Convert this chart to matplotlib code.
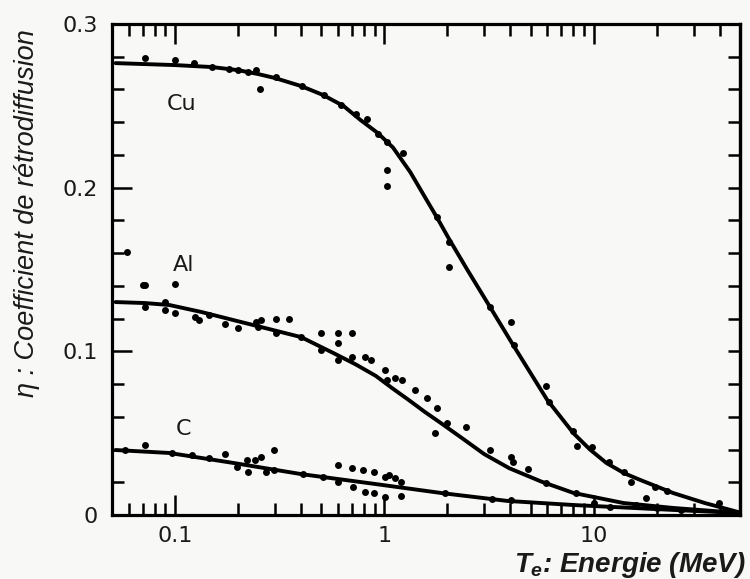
import matplotlib
matplotlib.use("Agg")
import matplotlib.pyplot as plt
from matplotlib.ticker import FixedLocator, NullFormatter, LogLocator

plt.rcParams['mathtext.fontset'] = 'custom'
plt.rcParams['mathtext.it'] = 'Liberation Sans:italic:bold'
plt.rcParams['mathtext.rm'] = 'Liberation Sans:bold'

# ---------------- data ----------------
cu_curve_E = [0.052, 0.072, 0.1, 0.15, 0.2, 0.25, 0.30, 0.40, 0.51, 0.64, 0.77, 0.93,
              1.1, 1.33, 1.6, 1.78, 2.03, 2.5, 3.25, 4.18, 6.0, 8.0, 9.6, 11.5, 14.0,
              16.7, 24, 34, 50]
cu_curve_eta = [0.2761, 0.2755, 0.2749, 0.2737, 0.2718, 0.2694, 0.2670, 0.2621, 0.2566,
                0.2498, 0.2413, 0.2334, 0.2245, 0.2095, 0.1920, 0.1820, 0.1690, 0.1495,
                0.1256, 0.1026, 0.0703, 0.0500, 0.0400, 0.0318, 0.0255, 0.0214, 0.0134,
                0.0073, 0.0015]

al_curve_E = [0.052, 0.072, 0.094, 0.134, 0.19, 0.27, 0.40, 0.57, 0.73, 0.91, 1.09, 1.3,
              1.56, 1.88, 2.42, 3.0, 3.95, 5.6, 8.0, 13.9, 24, 50]
al_curve_eta = [0.1301, 0.1295, 0.1283, 0.124, 0.1191, 0.1142, 0.1087, 0.0990, 0.0920,
                0.0850, 0.0775, 0.0705, 0.0630, 0.0558, 0.0458, 0.0372, 0.0286, 0.0205,
                0.0135, 0.0073, 0.0043, 0.0012]

c_curve_E = [0.052, 0.094, 0.19, 0.40, 0.91, 1.88, 3.87, 8.0, 24, 50]
c_curve_eta = [0.0397, 0.0379, 0.0318, 0.025, 0.0189, 0.0134, 0.0086, 0.0061, 0.0031,
               0.0012]

cu_pts_E = [0.072, 0.1, 0.123, 0.15, 0.182, 0.2, 0.224, 0.245, 0.256, 0.304, 0.404,
            0.514, 0.618, 0.729, 0.83, 0.93, 1.03, 1.23, 1.03, 1.03, 1.78, 2.03, 2.03,
            3.18, 4.04, 4.18, 5.93, 6.1, 7.95, 8.3, 9.8, 11.8, 13.9, 15.0, 19.7, 22.3,
            39.8]
cu_pts_eta = [0.279, 0.278, 0.276, 0.274, 0.2725, 0.272, 0.2706, 0.272, 0.260, 0.2676,
              0.262, 0.2566, 0.2505, 0.245, 0.242, 0.233, 0.228, 0.221, 0.2107, 0.201,
              0.182, 0.1668, 0.1515, 0.127, 0.118, 0.104, 0.0788, 0.069, 0.0513, 0.042,
              0.0415, 0.0324, 0.0263, 0.020, 0.017, 0.0147, 0.0073]

al_pts_E = [0.059, 0.07, 0.072, 0.1, 0.072, 0.09, 0.09, 0.1, 0.124, 0.13, 0.145, 0.173,
            0.2, 0.245, 0.25, 0.258, 0.304, 0.304, 0.35, 0.4, 0.5, 0.5, 0.6, 0.6, 0.6,
            0.7, 0.7, 0.81, 0.86, 1.01, 1.03, 1.13, 1.22, 1.4, 1.6, 1.78, 1.74, 2.0,
            2.45, 3.18, 4.04, 4.1, 4.85, 5.9, 8.2, 10.0, 17.8]
al_pts_eta = [0.1607, 0.1405, 0.1405, 0.141, 0.127, 0.130, 0.125, 0.1234, 0.121, 0.119,
              0.122, 0.117, 0.114, 0.118, 0.115, 0.119, 0.120, 0.111, 0.120, 0.1087,
              0.111, 0.1008, 0.111, 0.105, 0.0947, 0.111, 0.0965, 0.0965, 0.0947,
              0.0886, 0.0825, 0.0837, 0.0825, 0.0764, 0.0715, 0.0654, 0.050, 0.0562,
              0.0538, 0.0397, 0.0354, 0.0324, 0.0281, 0.0195, 0.0134, 0.0073, 0.0104]

c_pts_E = [0.058, 0.072, 0.097, 0.12, 0.145, 0.173, 0.197, 0.22, 0.224, 0.24, 0.258,
           0.273, 0.298, 0.298, 0.41, 0.51, 0.6, 0.6, 0.7, 0.71, 0.79, 0.81, 0.89, 0.89,
           1.01, 1.05, 1.13, 1.2, 1.01, 1.2, 1.94, 3.25, 4.04, 12, 16, 20, 26]
c_pts_eta = [0.0397, 0.0428, 0.0379, 0.0367, 0.0348, 0.0373, 0.0293, 0.0336, 0.0263,
             0.0336, 0.0354, 0.0263, 0.0397, 0.0275, 0.025, 0.0232, 0.0305, 0.0202,
             0.0287, 0.0171, 0.0275, 0.014, 0.0263, 0.0134, 0.0232, 0.0244, 0.0226,
             0.0202, 0.011, 0.0116, 0.0134, 0.0098, 0.0092, 0.005, 0.006, 0.004, 0.003]

series_labels = ["Cu", "Al", "C"]
label_E = [0.108, 0.11, 0.11]
label_eta = [0.251, 0.1527, 0.0525]

x_major = [0.1, 1, 10]
x_major_labels = ["0.1", "1", "10"]
y_major = [0, 0.1, 0.2, 0.3]
y_major_labels = ["0", "0.1", "0.2", "0.3"]
y_minor = [0.02, 0.04, 0.06, 0.08, 0.12, 0.14, 0.16, 0.18, 0.22, 0.24, 0.26, 0.28]
y_right = [0.02, 0.04, 0.06, 0.08, 0.1, 0.12, 0.14, 0.16, 0.18, 0.2, 0.22, 0.24, 0.26,
           0.28]

# ---------------- figure ----------------
bg = '#f8f8f6'
fig = plt.figure(figsize=(7.5, 5.79), dpi=100, facecolor=bg)
ax = fig.add_axes([112/750, 1-515/579, (740-112)/750, (515-24)/579])
ax.set_facecolor(bg)
ax.set_xscale('log')
ax.set_xlim(0.05, 50)
ax.set_ylim(0, 0.3)

lw_curve = 2.8
for E, eta in [(cu_curve_E, cu_curve_eta), (al_curve_E, al_curve_eta), (c_curve_E, c_curve_eta)]:
    ax.plot(E, eta, color='black', lw=lw_curve, solid_capstyle='round',
            solid_joinstyle='round', zorder=3)
for E, eta in [(cu_pts_E, cu_pts_eta), (al_pts_E, al_pts_eta), (c_pts_E, c_pts_eta)]:
    ax.plot(E, eta, 'o', color='black', ms=5, mew=0, zorder=4)

for lab, e, h in zip(series_labels, label_E, label_eta):
    ax.text(e, h, lab, ha='center', va='center', fontsize=16, color='#1a1a1a',
            family='DejaVu Sans')

for s in ax.spines.values():
    s.set_linewidth(2.3)

ax.xaxis.set_major_locator(FixedLocator(x_major))
ax.set_xticklabels(x_major_labels)
ax.xaxis.set_minor_locator(LogLocator(base=10, subs=(2, 3, 4, 5, 6, 7, 8, 9)))
ax.xaxis.set_minor_formatter(NullFormatter())
ax.yaxis.set_major_locator(FixedLocator(y_major))
ax.set_yticklabels(y_major_labels)
ax.yaxis.set_minor_locator(FixedLocator(y_minor))

ax.tick_params(which='both', direction='in', top=True, right=False, width=1.8,
               color='black')
ax.tick_params(which='major', length=14.4, labelsize=16, labelcolor='#1a1a1a')
ax.tick_params(axis='x', which='major', pad=8)
ax.tick_params(axis='y', which='major', pad=10)
ax.tick_params(which='minor', length=8.6)

sec = ax.secondary_yaxis('right')
sec.set_yticks(y_right)
sec.tick_params(direction='in', length=9, width=1.8, labelright=False)
sec.spines['right'].set_linewidth(2.3)

fig.text(27/750, 1-213/579, "η : Coefficient de rétrodiffusion", rotation=90,
         ha='center', va='center', fontsize=19.5, style='italic',
         family='Liberation Sans', color='#1a1a1a')
fig.text(746/750, 7/579, r"$T_e$: Energie (MeV)", ha='right', va='baseline',
         fontsize=20, style='italic', weight='bold', family='Liberation Sans',
         color='#1a1a1a')

fig.savefig('out.png', dpi=100, facecolor=bg)
